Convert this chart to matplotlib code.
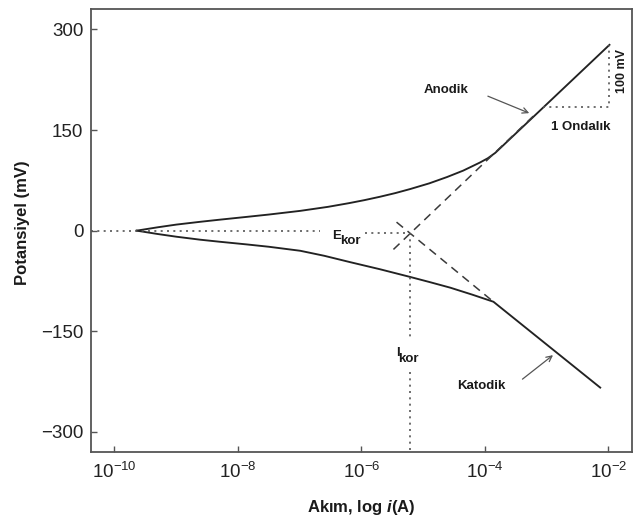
import numpy as np
import matplotlib
matplotlib.use("Agg")
import matplotlib.pyplot as plt
from matplotlib.ticker import FixedLocator, FuncFormatter, NullLocator

plt.rcParams['font.family'] = ['Liberation Sans', 'DejaVu Sans']
plt.rcParams['mathtext.fontset'] = 'custom'
plt.rcParams['mathtext.rm'] = 'Liberation Sans'
plt.rcParams['mathtext.it'] = 'Liberation Sans:italic:bold'
plt.rcParams['mathtext.bf'] = 'Liberation Sans:bold'

# ---- data (log10 of current in A, potential in mV) ----
anodic_log = [-9.64, -9.3, -9.0, -8.61, -8.3, -7.86, -7.5, -6.99, -6.54, -6.2, -5.95,
              -5.70, -5.45, -5.21, -4.9, -4.61, -4.35, -4.08, -3.95, -3.83, -1.98]
anodic_E = [0, 5, 9, 13.2, 16.3, 20.5, 24, 29.5, 35.5, 41, 45.5,
            50.5, 56, 62, 70.5, 80, 89.5, 101.5, 108, 116, 277]
cath_log = [-9.64, -9.3, -9.0, -8.61, -8.3, -7.86, -7.5, -6.99, -6.6, -6.18, -5.7,
            -5.21, -4.9, -4.56, -4.2, -3.86, -2.13]
cath_E = [0, -5, -9, -13.5, -16.5, -20.5, -24, -30, -37.5, -47, -57.5,
          -69, -76.5, -85, -95.5, -106, -234]
tafel_an_log = [-5.48, -3.2]
tafel_an_E = [-28, 172]
tafel_cat_log = [-5.43, -3.86]
tafel_cat_E = [12.7, -106]
I_kor_log = -5.21
E_kor = -4
E_left_line = -1
slope_tri_log = [-3.05, -1.98, -1.98]
slope_tri_E = [184, 184, 277]
xtick_exp = [-10, -8, -6, -4, -2]
yticks = [-300, -150, 0, 150, 300]
xlim_exp = (-10.38, -1.62)
ylim = (-330, 330)

def p(v):
    return 10.0 ** np.asarray(v, dtype=float)

fig = plt.figure(figsize=(6.43, 5.19), dpi=100)
ax = fig.add_axes([91/643, 1 - 452/519, (631.7-91)/643, (452-9.3)/519])
ax.set_xscale('log')
ax.set_xlim(p(xlim_exp[0]), p(xlim_exp[1]))
ax.set_ylim(*ylim)

curve_c = '#222222'
ax.plot(p(anodic_log), anodic_E, color=curve_c, lw=1.35, solid_joinstyle='round')
ax.plot(p(cath_log), cath_E, color=curve_c, lw=1.35, solid_joinstyle='round')

dash = (0, (5.5, 3.8))
ax.plot(p(tafel_an_log), tafel_an_E, color='#3a3a3a', lw=1.1, linestyle=dash)
ax.plot(p(tafel_cat_log), tafel_cat_E, color='#3a3a3a', lw=1.1, linestyle=dash)

dot = (0, (1.2, 2.6))
dot_c = '#555555'
# E_kor horizontal dotted
ax.plot([p(xlim_exp[0]), p(-6.67)], [E_left_line, E_left_line], color=dot_c, lw=1.2, linestyle=dot)
ax.plot([p(-5.94), p(I_kor_log)], [E_kor, E_kor], color=dot_c, lw=1.2, linestyle=dot)
# I_kor vertical dotted
ax.plot([p(I_kor_log), p(I_kor_log)], [E_kor, -159], color=dot_c, lw=1.2, linestyle=dot)
ax.plot([p(I_kor_log), p(I_kor_log)], [-211, ylim[0]], color=dot_c, lw=1.2, linestyle=dot)
# slope triangle
ax.plot(p(slope_tri_log), slope_tri_E, color=dot_c, lw=1.2, linestyle=dot)

# labels
txt_c = '#1a1a1a'
ax.text(p(-6.479), -12.2, 'E', fontsize=9.5, fontweight='bold', color=txt_c, ha='left', va='baseline')
ax.text(p(-6.345), -20.1, 'kor', fontsize=9.5, fontweight='bold', color=txt_c, ha='left', va='baseline')
ax.text(p(-5.443), -186.7, 'I', fontsize=9.5, fontweight='bold', color=txt_c, ha='left', va='baseline')
ax.text(p(-5.40), -195.6, 'kor', fontsize=9.5, fontweight='bold', color=txt_c, ha='left', va='baseline')
ax.text(p(-4.627), 209.4, 'Anodik', fontsize=9.5, fontweight='bold', color=txt_c, ha='center', va='center')
ax.text(p(-2.44), 154.8, '1 Ondalık', fontsize=9.5, fontweight='bold', color=txt_c, ha='center', va='center')
ax.text(p(-1.77), 237.8, '100 mV', fontsize=9, fontweight='bold', color=txt_c, ha='center', va='center', rotation=90)
ax.text(p(-4.062), -231.8, 'Katodik', fontsize=9.5, fontweight='bold', color=txt_c, ha='center', va='center')

arrow_kw = dict(arrowstyle='->', color='#555555', lw=0.9, shrinkA=0, shrinkB=0, mutation_scale=10)
ax.annotate('', xy=(p(-3.28), 175.2), xytext=(p(-3.95), 200.5), arrowprops=arrow_kw)
ax.annotate('', xy=(p(-2.895), -185.6), xytext=(p(-3.39), -221.4), arrowprops=arrow_kw)

# axes styling
ax.xaxis.set_major_locator(FixedLocator(list(p(xtick_exp))))
ax.xaxis.set_minor_locator(NullLocator())
ax.xaxis.set_major_formatter(FuncFormatter(lambda v, pos: r'$10^{%d}$' % int(round(np.log10(v)))))
ax.set_yticks(yticks)
ax.set_yticklabels([('\u2212%d' % -v) if v < 0 else '%d' % v for v in yticks])
ax.tick_params(axis='both', direction='in', length=4, width=1, color='#555555',
               labelsize=13.5, labelcolor='#222222')
ax.tick_params(axis='y', pad=5.5)
ax.tick_params(axis='x', pad=7)
for s in ax.spines.values():
    s.set_color('#555555')
    s.set_linewidth(1.3)

ax.set_xlabel(r'Akım, log $i$(A)', fontsize=12, fontweight='bold', color='#1a1a1a')
ax.set_ylabel('Potansiyel (mV)', fontsize=12, fontweight='bold', color='#1a1a1a')
ax.xaxis.set_label_coords(0.5, -0.104)
ax.yaxis.set_label_coords(-0.113, 0.518)

fig.savefig('out.png', dpi=100)
